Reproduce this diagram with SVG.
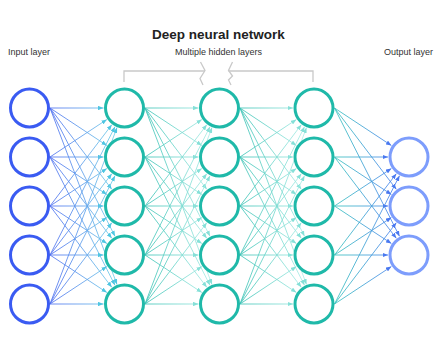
<svg xmlns="http://www.w3.org/2000/svg" width="448" height="339" viewBox="0 0 448 339">
<style>
.title{font-family:"Liberation Sans",Arial,sans-serif;font-weight:bold;font-size:13.5px;fill:#222;}
.lbl{font-family:"Liberation Sans",Arial,sans-serif;font-size:9px;fill:#333;}
.brk{fill:none;stroke:#c9c9c9;stroke-width:1.3;}
.n{fill:#fff;stroke-width:3;}
.in{stroke:#3a5bf2;}
.hid{stroke:#1fb9a9;}
.out{stroke:#7d9dfc;}
.e line{stroke-width:1;fill:none;stroke-opacity:0.85;}
#gapA line{stroke:url(#gA);marker-end:url(#mA);}
#gapB line,#gapC line{stroke:url(#gB);marker-end:url(#mB);}
#gapC line{stroke:url(#gC);}
#gapD line{stroke:url(#gD);marker-end:url(#mD);}
</style>
<defs>
<linearGradient id="gA" gradientUnits="userSpaceOnUse" x1="50" y1="0" x2="118" y2="0"><stop offset="0" stop-color="#5070f0"/><stop offset="1" stop-color="#72d5e7"/></linearGradient>
<linearGradient id="gB" gradientUnits="userSpaceOnUse" x1="145" y1="0" x2="213" y2="0"><stop offset="0" stop-color="#3dc3b6"/><stop offset="1" stop-color="#b4f0ea"/></linearGradient>
<linearGradient id="gC" gradientUnits="userSpaceOnUse" x1="240" y1="0" x2="307" y2="0"><stop offset="0" stop-color="#3dc3b6"/><stop offset="1" stop-color="#b4f0ea"/></linearGradient>
<linearGradient id="gD" gradientUnits="userSpaceOnUse" x1="334" y1="0" x2="400" y2="0"><stop offset="0" stop-color="#3ac4be"/><stop offset="1" stop-color="#4b7cf2"/></linearGradient>
<marker id="mA" viewBox="0 0 10 8" refX="10" refY="4" markerWidth="5.5" markerHeight="4.4" orient="auto" markerUnits="userSpaceOnUse"><path d="M0,0 L10,4 L0,8 z" fill="#4fc6e2"/></marker>
<marker id="mB" viewBox="0 0 10 8" refX="10" refY="4" markerWidth="5.5" markerHeight="4.4" orient="auto" markerUnits="userSpaceOnUse"><path d="M0,0 L10,4 L0,8 z" fill="#86e0d8"/></marker>
<marker id="mD" viewBox="0 0 10 8" refX="10" refY="4" markerWidth="5.5" markerHeight="4.4" orient="auto" markerUnits="userSpaceOnUse"><path d="M0,0 L10,4 L0,8 z" fill="#4a78f0"/></marker>
</defs>
<rect width="448" height="339" fill="#fff"/>
<g id="labels">
<text class="title" x="218.5" y="39" text-anchor="middle">Deep neural network</text>
<text class="lbl" x="8" y="55">Input layer</text>
<text class="lbl" x="218.5" y="55" text-anchor="middle">Multiple hidden layers</text>
<text class="lbl" x="433" y="55" text-anchor="end">Output layer</text>
</g>
<g id="bracket">
<path class="brk" d="M124,82 V71 H205"/>
<polyline class="brk" points="200.5,62 205,70.5 200,78.5 203,85"/>
<path class="brk" d="M313,82 V71 H228.5"/>
<polyline class="brk" points="232.5,62 228.5,70.5 232.5,76 228.5,80 231,85"/>
</g>
<g id="connectors" class="e">
<g id="gapA">
<line x1="50" y1="108" x2="103.5" y2="108"/><line x1="50" y1="108" x2="106.9" y2="145.5"/><line x1="50" y1="108" x2="111.8" y2="189.3"/><line x1="50" y1="108" x2="115" y2="236.3"/><line x1="50" y1="108" x2="117" y2="284.4"/>
<line x1="50" y1="157" x2="106.9" y2="119.5"/><line x1="50" y1="157" x2="103.5" y2="157"/><line x1="50" y1="157" x2="106.9" y2="194.5"/><line x1="50" y1="157" x2="111.8" y2="238.3"/><line x1="50" y1="157" x2="115" y2="285.3"/>
<line x1="50" y1="206" x2="111.8" y2="124.7"/><line x1="50" y1="206" x2="106.9" y2="168.5"/><line x1="50" y1="206" x2="103.5" y2="206"/><line x1="50" y1="206" x2="106.9" y2="243.5"/><line x1="50" y1="206" x2="111.8" y2="287.3"/>
<line x1="50" y1="255" x2="115" y2="126.7"/><line x1="50" y1="255" x2="111.8" y2="173.7"/><line x1="50" y1="255" x2="106.9" y2="217.5"/><line x1="50" y1="255" x2="103.5" y2="255"/><line x1="50" y1="255" x2="106.9" y2="292.5"/>
<line x1="50" y1="304" x2="117" y2="127.6"/><line x1="50" y1="304" x2="115" y2="175.7"/><line x1="50" y1="304" x2="111.8" y2="222.7"/><line x1="50" y1="304" x2="106.9" y2="266.5"/><line x1="50" y1="304" x2="103.5" y2="304"/>
</g>
<g id="gapB">
<line x1="145" y1="108" x2="198.5" y2="108"/><line x1="145" y1="108" x2="201.9" y2="145.5"/><line x1="145" y1="108" x2="206.8" y2="189.3"/><line x1="145" y1="108" x2="210" y2="236.3"/><line x1="145" y1="108" x2="212" y2="284.4"/>
<line x1="145" y1="157" x2="201.9" y2="119.5"/><line x1="145" y1="157" x2="198.5" y2="157"/><line x1="145" y1="157" x2="201.9" y2="194.5"/><line x1="145" y1="157" x2="206.8" y2="238.3"/><line x1="145" y1="157" x2="210" y2="285.3"/>
<line x1="145" y1="206" x2="206.8" y2="124.7"/><line x1="145" y1="206" x2="201.9" y2="168.5"/><line x1="145" y1="206" x2="198.5" y2="206"/><line x1="145" y1="206" x2="201.9" y2="243.5"/><line x1="145" y1="206" x2="206.8" y2="287.3"/>
<line x1="145" y1="255" x2="210" y2="126.7"/><line x1="145" y1="255" x2="206.8" y2="173.7"/><line x1="145" y1="255" x2="201.9" y2="217.5"/><line x1="145" y1="255" x2="198.5" y2="255"/><line x1="145" y1="255" x2="201.9" y2="292.5"/>
<line x1="145" y1="304" x2="212" y2="127.6"/><line x1="145" y1="304" x2="210" y2="175.7"/><line x1="145" y1="304" x2="206.8" y2="222.7"/><line x1="145" y1="304" x2="201.9" y2="266.5"/><line x1="145" y1="304" x2="198.5" y2="304"/>
</g>
<g id="gapC">
<line x1="240" y1="108" x2="293" y2="108"/><line x1="240" y1="108" x2="296.4" y2="145.5"/><line x1="240" y1="108" x2="301.3" y2="189.3"/><line x1="240" y1="108" x2="304.5" y2="236.3"/><line x1="240" y1="108" x2="306.5" y2="284.4"/>
<line x1="240" y1="157" x2="296.4" y2="119.5"/><line x1="240" y1="157" x2="293" y2="157"/><line x1="240" y1="157" x2="296.4" y2="194.5"/><line x1="240" y1="157" x2="301.3" y2="238.3"/><line x1="240" y1="157" x2="304.5" y2="285.3"/>
<line x1="240" y1="206" x2="301.3" y2="124.7"/><line x1="240" y1="206" x2="296.4" y2="168.5"/><line x1="240" y1="206" x2="293" y2="206"/><line x1="240" y1="206" x2="296.4" y2="243.5"/><line x1="240" y1="206" x2="301.3" y2="287.3"/>
<line x1="240" y1="255" x2="304.5" y2="126.7"/><line x1="240" y1="255" x2="301.3" y2="173.7"/><line x1="240" y1="255" x2="296.4" y2="217.5"/><line x1="240" y1="255" x2="293" y2="255"/><line x1="240" y1="255" x2="296.4" y2="292.5"/>
<line x1="240" y1="304" x2="306.5" y2="127.6"/><line x1="240" y1="304" x2="304.5" y2="175.7"/><line x1="240" y1="304" x2="301.3" y2="222.7"/><line x1="240" y1="304" x2="296.4" y2="266.5"/><line x1="240" y1="304" x2="293" y2="304"/>
</g>
<g id="gapD">
<line x1="334.5" y1="108" x2="391.4" y2="145.5"/><line x1="334.5" y1="108" x2="396.3" y2="189.3"/><line x1="334.5" y1="108" x2="399.5" y2="236.3"/>
<line x1="334.5" y1="157" x2="388" y2="157"/><line x1="334.5" y1="157" x2="391.4" y2="194.5"/><line x1="334.5" y1="157" x2="396.3" y2="238.3"/>
<line x1="334.5" y1="206" x2="391.4" y2="168.5"/><line x1="334.5" y1="206" x2="388" y2="206"/><line x1="334.5" y1="206" x2="391.4" y2="243.5"/>
<line x1="334.5" y1="255" x2="396.3" y2="173.7"/><line x1="334.5" y1="255" x2="391.4" y2="217.5"/><line x1="334.5" y1="255" x2="388" y2="255"/>
<line x1="334.5" y1="304" x2="399.5" y2="175.7"/><line x1="334.5" y1="304" x2="396.3" y2="222.7"/><line x1="334.5" y1="304" x2="391.4" y2="266.5"/>
</g>
</g>
<g id="input-layer">
<g id="in1"><circle class="n in" cx="29.5" cy="108" r="19"/></g>
<g id="in2"><circle class="n in" cx="29.5" cy="157" r="19"/></g>
<g id="in3"><circle class="n in" cx="29.5" cy="206" r="19"/></g>
<g id="in4"><circle class="n in" cx="29.5" cy="255" r="19"/></g>
<g id="in5"><circle class="n in" cx="29.5" cy="304" r="19"/></g>
</g>
<g id="hidden-layer-1">
<g id="h1n1"><circle class="n hid" cx="124.5" cy="108" r="19"/></g>
<g id="h1n2"><circle class="n hid" cx="124.5" cy="157" r="19"/></g>
<g id="h1n3"><circle class="n hid" cx="124.5" cy="206" r="19"/></g>
<g id="h1n4"><circle class="n hid" cx="124.5" cy="255" r="19"/></g>
<g id="h1n5"><circle class="n hid" cx="124.5" cy="304" r="19"/></g>
</g>
<g id="hidden-layer-2">
<g id="h2n1"><circle class="n hid" cx="219.5" cy="108" r="19"/></g>
<g id="h2n2"><circle class="n hid" cx="219.5" cy="157" r="19"/></g>
<g id="h2n3"><circle class="n hid" cx="219.5" cy="206" r="19"/></g>
<g id="h2n4"><circle class="n hid" cx="219.5" cy="255" r="19"/></g>
<g id="h2n5"><circle class="n hid" cx="219.5" cy="304" r="19"/></g>
</g>
<g id="hidden-layer-3">
<g id="h3n1"><circle class="n hid" cx="314" cy="108" r="19"/></g>
<g id="h3n2"><circle class="n hid" cx="314" cy="157" r="19"/></g>
<g id="h3n3"><circle class="n hid" cx="314" cy="206" r="19"/></g>
<g id="h3n4"><circle class="n hid" cx="314" cy="255" r="19"/></g>
<g id="h3n5"><circle class="n hid" cx="314" cy="304" r="19"/></g>
</g>
<g id="output-layer">
<g id="out1"><circle class="n out" cx="409" cy="157" r="19"/></g>
<g id="out2"><circle class="n out" cx="409" cy="206" r="19"/></g>
<g id="out3"><circle class="n out" cx="409" cy="255" r="19"/></g>
</g>
</svg>
